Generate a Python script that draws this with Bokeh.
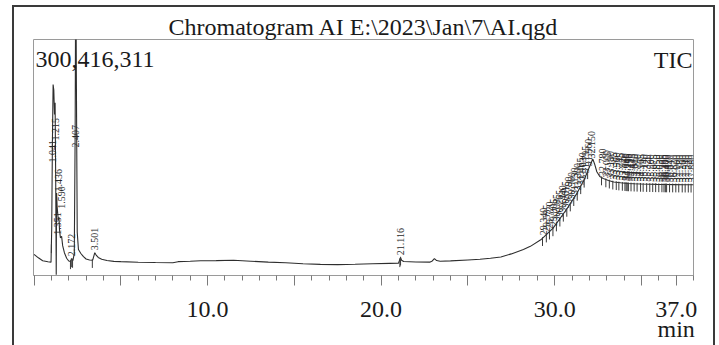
import numpy as np
from math import pi
from bokeh.plotting import figure
from bokeh.models import Range1d, FixedTicker, Label, InlineStyleSheet
from bokeh.core.properties import value
from bokeh.embed import file_html
from bokeh.resources import INLINE

# ---------------- data ----------------
# retention time (min) and TIC intensity (millions of counts)
rt = [0.00, 0.25, 0.50, 0.80, 0.98, 1.02, 1.06, 1.10, 1.14, 1.18, 1.215, 1.25, 1.28, 1.30,
      1.33, 1.37, 1.40, 1.436, 1.47, 1.52, 1.59, 1.65, 1.75, 1.88, 2.00, 2.10, 2.172, 2.24,
      2.32, 2.37, 2.407, 2.44, 2.49, 2.56, 2.70, 2.85, 3.00, 3.20, 3.38, 3.45, 3.501, 3.58,
      3.70, 3.90, 4.20, 4.60, 5.00, 6.00, 7.00, 8.00, 8.30, 9.00, 9.60, 10.50, 11.50, 12.50,
      13.50, 14.50, 15.50, 16.50, 17.50, 18.50, 19.50, 20.50, 21.00, 21.116, 21.18, 21.30,
      22.00, 22.80, 22.95, 23.07, 23.20, 23.40, 24.00, 25.00, 25.70, 26.30, 26.90, 27.50,
      28.20, 28.60, 29.20, 29.90, 30.70, 31.30, 31.70, 32.05, 32.20, 32.30, 32.43, 32.60,
      32.80, 33.10, 33.40, 33.80, 34.20, 34.60, 35.00, 35.50, 35.90, 36.40, 36.90, 37.40, 38.00]
tic = [26.9, 22.5, 18.8, 17.6, 17.0, 60.0, 170.0, 243.0, 236.0, 205.0, 220.0, 120.0, 1.0, 105.0,
       88.0, 78.0, 70.0, 74.0, 58.0, 48.0, 50.0, 38.0, 29.0, 22.0, 18.5, 18.0, 21.5, 19.0,
       28.0, 180.0, 420.0, 250.0, 55.0, 33.0, 28.0, 24.0, 21.0, 19.8, 19.5, 25.0, 29.0, 26.0,
       23.0, 20.8, 19.0, 18.0, 17.6, 16.9, 16.5, 16.3, 17.6, 18.2, 18.8, 18.9, 19.4, 18.2,
       17.0, 16.3, 15.0, 14.2, 13.9, 14.3, 15.0, 15.4, 15.6, 22.8, 19.5, 17.8,
       17.2, 17.0, 18.5, 21.5, 19.0, 18.2, 18.6, 19.8, 20.7, 22.0, 23.5, 27.5,
       33.0, 37.1, 45.4, 59.9, 84.7, 105.2, 121.8, 140.7, 148.2, 142.0, 132.1, 126.0,
       123.4, 121.0, 119.1, 118.0, 117.2, 116.8, 116.5, 116.2, 116.0, 115.8, 115.7, 115.6, 115.5]

# peak labels with a fixed label level (crowded / off-scale peaks)
fixed_peaks = [1.041, 1.215, 1.351, 1.436, 1.590, 2.407]
fixed_level = [144.0, 172.0, 52.0, 107.0, 85.0, 163.0]
# peak labels sitting on the trace
trace_peaks = [2.172, 3.501, 21.116,
               29.340, 29.535, 29.720, 29.905, 30.085, 30.265, 30.440, 30.615, 30.790, 30.960,
               31.130, 31.300, 31.465, 31.630, 31.795, 31.960, 32.150,
               32.780, 33.000, 33.190, 33.385, 33.560, 33.745, 33.920, 34.060, 34.145, 34.215,
               34.290, 34.445, 34.610, 34.790, 34.965, 35.140, 35.320, 35.500, 35.675, 35.850,
               36.030, 36.205, 36.330, 36.400, 36.470, 36.640, 36.820, 37.000, 37.180, 37.360,
               37.540, 37.720, 37.880]
# peak start / end markers
markers = [1.00, 1.06, 2.10, 2.15, 2.22, 3.36, 21.08, 21.12,
           29.30, 29.52, 29.70, 29.90, 30.10, 30.30, 30.50, 30.70, 30.90, 31.10, 31.30, 31.50,
           31.70, 31.90, 32.70, 32.95, 33.15, 33.35, 33.55, 33.70, 33.90, 34.05, 34.12, 34.18,
           34.25, 34.40, 34.58, 34.75, 34.95, 35.10, 35.30, 35.48, 35.65, 35.82, 36.00, 36.18,
           36.30, 36.38, 36.45, 36.62, 36.80, 36.98, 37.15, 37.35, 37.52, 37.70, 37.86]

x_ticks = [0, 5, 10, 15, 20, 25, 30, 35, 37]
x_tick_labels = ["", "", "10.0", "", "20.0", "", "30.0", "", "37.0\nmin"]
y_max = 300.416311
title_text = "Chromatogram AI E:\\2023\\Jan\\7\\AI.qgd"
max_text = "300,416,311"

# ---------------- geometry ----------------
W, H = 719, 345
BL, BR, BT, BB = 33, 26, 39, 63
X0, X1 = -0.03, 38.0
fw, fh = W - BL - BR, H - BT - BB


def px2x(px):
    return X0 + (px - BL) / fw * (X1 - X0)


def py2y(py):
    return (H - BB - py) / fh * y_max


PX_Y = y_max / fh  # data units per pixel (vertical)

frame_css = InlineStyleSheet(css="""
:host { position: relative; }
:host::after {
  content: ""; position: absolute; left: 12px; top: 5px; width: 703px; height: 340px;
  box-sizing: border-box; border: 2px solid #3a3a3a; border-bottom: none;
  pointer-events: none;
}
""")

p = figure(width=W, height=H, output_backend="svg", toolbar_location=None,
           x_range=Range1d(X0, X1), y_range=Range1d(0, y_max), y_axis_location=None,
           min_border_left=BL, min_border_right=BR, min_border_top=BT, min_border_bottom=BB,
           title=title_text)
p.stylesheets = [frame_css]
p.grid.visible = False
p.outline_line_color = "#9a9a9a"
p.outline_line_width = 1
p.background_fill_color = "white"
p.border_fill_color = "white"

p.title.align = "center"
p.title.text_font = "Liberation Serif"
p.title.text_font_size = "24px"
p.title.text_font_style = "normal"
p.title.text_color = "#1a1a1a"
p.title.standoff = 0

ax = p.xaxis[0]
ax.ticker = FixedTicker(ticks=x_ticks, minor_ticks=list(range(0, 39)))
ax.major_label_overrides = {t: s for t, s in zip(x_ticks, x_tick_labels)}
ax.major_tick_in = 0
ax.major_tick_out = 10
ax.minor_tick_in = 0
ax.minor_tick_out = 5
ax.major_label_standoff = 10
ax.axis_line_color = "#9a9a9a"
ax.major_tick_line_color = "#7a7a7a"
ax.minor_tick_line_color = "#7a7a7a"
ax.major_label_text_font = "Liberation Serif"
ax.major_label_text_font_size = "24px"
ax.major_label_text_line_height = 0.8
ax.major_label_text_color = "#1a1a1a"

# trace
p.line(rt, tic, line_color="#2e2e2e", line_width=1.1)

# peak markers
mk = np.array(markers)
mk_y = np.interp(mk, rt, tic)
p.segment(x0=mk, y0=mk_y - 8 * PX_Y, x1=mk, y1=mk_y + 1 * PX_Y,
          line_color="#3a3a3a", line_width=1)

# peak labels
tp = np.array(trace_peaks)
lab_x = list(fixed_peaks) + list(tp)
lab_y = list(fixed_level) + list(np.interp(tp, rt, tic) + 2.5 * PX_Y)
lab_t = [f"{t:.3f}" for t in lab_x]
p.text(x=lab_x, y=lab_y, text=lab_t, angle=pi / 2, text_align="left",
       text_baseline="middle", text_font=value("Liberation Serif"),
       text_font_size="10px", text_color="#2a2a2a")


def lab(px, py, text, align):
    p.add_layout(Label(x=px2x(px), y=py2y(py), text=text, text_align=align,
                       text_baseline="alphabetic", text_font="Liberation Serif",
                       text_font_size="24px", text_color="#1a1a1a"))


lab(35, 60, max_text, "left")
lab(692, 60, "TIC", "right")

open("out.html", "w").write(file_html(p, INLINE))
